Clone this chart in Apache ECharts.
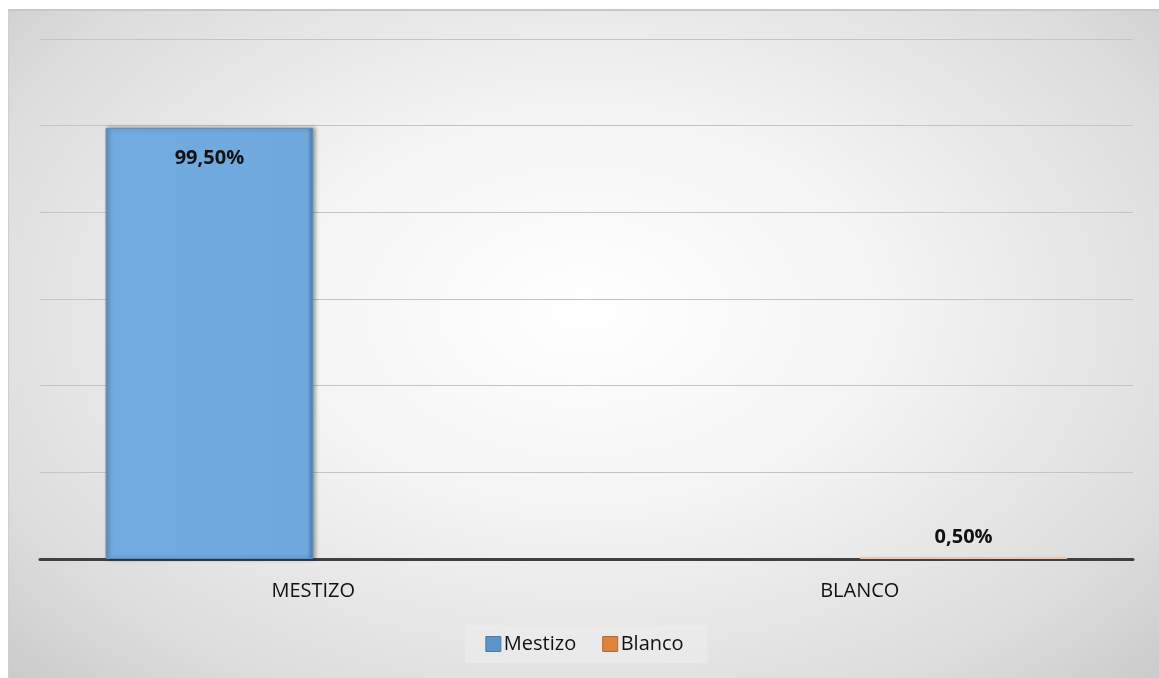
<!DOCTYPE html>
<html>
<head>
<meta charset="utf-8">
<script src="https://cdn.jsdelivr.net/npm/echarts@6/dist/echarts.min.js"></script>
<style>
html,body{margin:0;padding:0;background:#fff;width:1159px;height:678px;overflow:hidden;}
#frame{position:absolute;left:8px;top:9px;width:1151px;height:669px;
background:radial-gradient(ellipse 75% 85% at 50% 45%, #ffffff 0%, #f4f4f4 35%, #dcdcdc 75%, #c4c4c4 100%);
border-top:2px solid #c8c8c8;border-left:1px solid #cfcfcf;box-sizing:border-box;}
#chart{position:absolute;left:0;top:0;width:1151px;height:669px;}
</style>
</head>
<body>
<div id="frame"><div id="chart"></div></div>
<script>
var categories = ['MESTIZO', 'BLANCO'];
var seriesNames = ['Mestizo', 'Blanco'];
var mestizoValues = [99.5, null];
var blancoValues = [null, 0.5];
var yMax = 120;
var yInterval = 20;

var chart = echarts.init(document.getElementById('chart'));
var labelStyle = {
  show: true,
  fontFamily: 'Open Sans, Liberation Sans, sans-serif',
  fontWeight: 'bold',
  fontSize: 20,
  color: '#111',
  formatter: function (p) { return p.value.toFixed(2).replace('.', ',') + '%'; }
};
chart.setOption({
  backgroundColor: 'transparent',
  animation: false,
  grid: { left: 31, right: 27, top: 28, bottom: 121 },
  legend: {
    bottom: 17,
    left: 'center',
    itemWidth: 15,
    itemHeight: 15,
    itemGap: 26,
    icon: 'rect',
    padding: [9, 24, 9, 20],
    backgroundColor: 'rgba(240,240,240,0.45)',
    textStyle: { fontFamily: 'Open Sans, Liberation Sans, sans-serif', fontSize: 20, color: '#111', padding: [0, 0, 0, -2] },
    data: [
      { name: seriesNames[0], itemStyle: { color: '#5b94c9', borderColor: '#4a7aa6', borderWidth: 1 } },
      { name: seriesNames[1], itemStyle: { color: '#dd8340', borderColor: '#b8682e', borderWidth: 1 } }
    ]
  },
  xAxis: {
    type: 'category',
    data: categories,
    axisLine: { lineStyle: { color: '#404040', width: 3 } },
    axisTick: { show: false },
    axisLabel: { fontFamily: 'Open Sans, Liberation Sans, sans-serif', fontSize: 20, color: '#111', margin: 22 }
  },
  yAxis: {
    type: 'value',
    min: 0,
    max: yMax,
    interval: yInterval,
    axisLabel: { show: false },
    axisLine: { show: false },
    axisTick: { show: false },
    splitLine: { lineStyle: { color: '#c4c4c4', width: 1 } }
  },
  series: [
    {
      name: seriesNames[0],
      type: 'bar',
      data: mestizoValues,
      barGap: '0%',
      barCategoryGap: '24%',
      itemStyle: {
        color: new echarts.graphic.LinearGradient(0, 0, 1, 0, [
          { offset: 0, color: '#5f93c4' },
          { offset: 0.03, color: '#72abe0' },
          { offset: 0.97, color: '#6fa8dd' },
          { offset: 1, color: '#4d7aa3' }
        ]),
        borderColor: '#5d8cb9',
        borderWidth: 1,
        shadowColor: 'rgba(0,0,0,0.35)',
        shadowBlur: 4,
        shadowOffsetX: 2,
        shadowOffsetY: 0
      },
      label: Object.assign({}, labelStyle, { position: 'insideTop', distance: 20 })
    },
    {
      name: seriesNames[1],
      type: 'bar',
      data: blancoValues,
      itemStyle: { color: '#f0b48a', borderColor: '#e8c8b0', borderWidth: 1 },
      label: Object.assign({}, labelStyle, { position: 'top', distance: 10 })
    }
  ]
});
</script>
</body>
</html>
